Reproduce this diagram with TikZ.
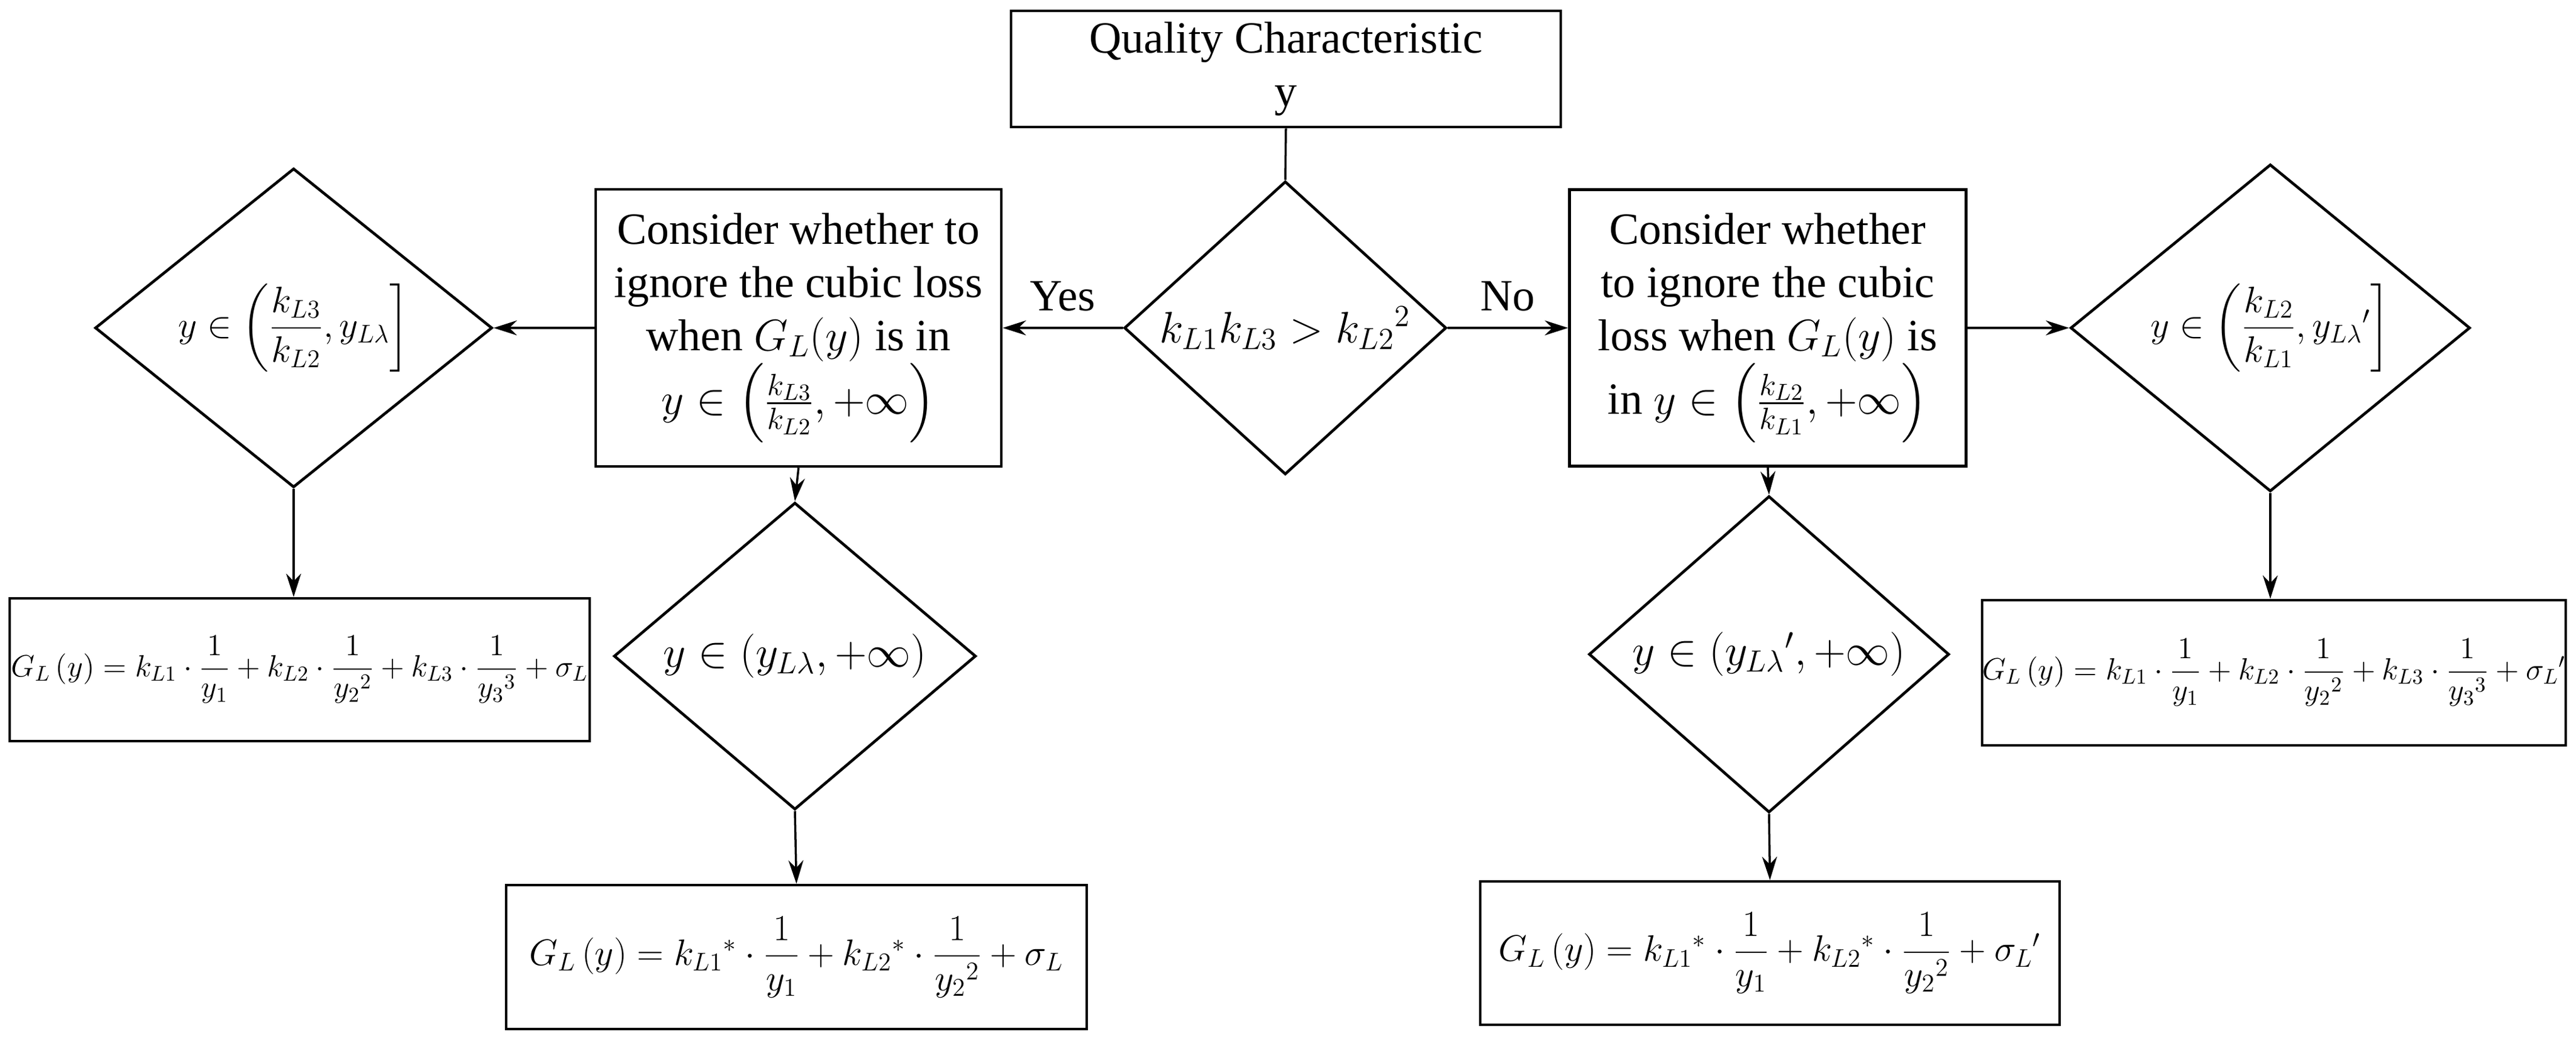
\documentclass[tikz,border=0pt]{standalone}
\usepackage{amsmath}
\usepackage{fontspec}
\setmainfont{Liberation Serif}
\usetikzlibrary{shapes.geometric,arrows.meta}
\begin{document}
\begin{tikzpicture}[
  box/.style={draw,line width=1.3pt,rectangle,inner sep=0pt,align=center,font=\fontsize{21}{25}\selectfont},
  dia/.style={draw,line width=1.3pt,diamond,inner sep=0pt,align=center,font=\fontsize{17}{20}\selectfont},
  fbox/.style={draw,line width=1.3pt,rectangle,inner sep=0pt,align=center,font=\fontsize{14.5}{18}\selectfont},
  arr/.style={line width=1pt,-{Stealth[length=11pt,width=7pt]}},
  lab/.style={font=\fontsize{21}{23}\selectfont}
]
\useasboundingbox (0,0) rectangle (42.55,-17.28);
\node[box,minimum width=9.08cm,minimum height=1.92cm] (top) at (21.24,-1.14) {Quality Characteristic\\y};
\node[dia,minimum width=5.32cm,minimum height=3.59cm,font=\fontsize{22}{24}\selectfont] (d0) at (21.23,-5.42) {$k_{L1}k_{L3}>k_{L2}{}^2$};
\node[box,minimum width=6.70cm,minimum height=4.58cm] (LB) at (13.19,-5.42) {Consider whether to\\ignore the cubic loss\\when $G_L(y)$ is in\\$y\in\left(\frac{k_{L3}}{k_{L2}},+\infty\right)$};
\node[box,minimum width=6.55cm,minimum height=4.57cm] (RB) at (29.20,-5.42) {Consider whether\\to ignore the cubic\\loss when $G_L(y)$ is\\in $y\in\left(\frac{k_{L2}}{k_{L1}},+\infty\right)$};
\node[dia,minimum width=6.56cm,minimum height=3.59cm] (LD) at (4.85,-5.42) {$y\in\left(\dfrac{k_{L3}}{k_{L2}},y_{L\lambda}\right]$};
\node[dia,minimum width=6.60cm,minimum height=3.60cm] (RD) at (37.50,-5.42) {$y\in\left(\dfrac{k_{L2}}{k_{L1}},y_{L\lambda}{}'\right]$};
\node[fbox,minimum width=9.58cm,minimum height=2.36cm] (LF) at (4.95,-11.07) {$G_L\left(y\right)=k_{L1}\cdot\dfrac{1}{y_1}+k_{L2}\cdot\dfrac{1}{y_2{}^2}+k_{L3}\cdot\dfrac{1}{y_3{}^3}+\sigma_L$};
\node[fbox,minimum width=9.60cm,minimum height=2.40cm] (RF) at (37.56,-11.12) {$G_L\left(y\right)=k_{L1}\cdot\dfrac{1}{y_1}+k_{L2}\cdot\dfrac{1}{y_2{}^2}+k_{L3}\cdot\dfrac{1}{y_3{}^3}+\sigma_L{}'$};
\node[dia,minimum width=5.98cm,minimum height=3.59cm,font=\fontsize{20}{24}\selectfont] (MLD) at (13.13,-10.845) {$y\in\left(y_{L\lambda},+\infty\right)$};
\node[dia,minimum width=5.95cm,minimum height=3.61cm,font=\fontsize{20}{24}\selectfont] (MRD) at (29.22,-10.815) {$y\in\left(y_{L\lambda}{}',+\infty\right)$};
\node[fbox,minimum width=9.59cm,minimum height=2.38cm,font=\fontsize{18}{21}\selectfont] (BL) at (13.155,-15.82) {$G_L\left(y\right)=k_{L1}{}^*\cdot\dfrac{1}{y_1}+k_{L2}{}^*\cdot\dfrac{1}{y_2{}^2}+\sigma_L$};
\node[fbox,minimum width=9.57cm,minimum height=2.37cm,font=\fontsize{18}{21}\selectfont] (BR) at (29.235,-15.755) {$G_L\left(y\right)=k_{L1}{}^*\cdot\dfrac{1}{y_1}+k_{L2}{}^*\cdot\dfrac{1}{y_2{}^2}+\sigma_L{}'$};
\draw[line width=1pt] (top.south) -- (d0.north);
\draw[arr] (d0.west) -- node[lab,above=4pt] {Yes} (LB.east);
\draw[arr] (d0.east) -- node[lab,above=4pt] {No} (RB.west);
\draw[arr] (LB.west) -- (LD.east);
\draw[arr] (RB.east) -- (RD.west);
\draw[arr] (LD.south) -- (LD.south |- LF.north);
\draw[arr] (RD.south) -- (RD.south |- RF.north);
\draw[arr] (LB.south) -- (MLD.north);
\draw[arr] (MLD.south) -- (BL.north);
\draw[arr] (RB.south) -- (MRD.north);
\draw[arr] (MRD.south) -- (BR.north);
\end{tikzpicture}
\end{document}
